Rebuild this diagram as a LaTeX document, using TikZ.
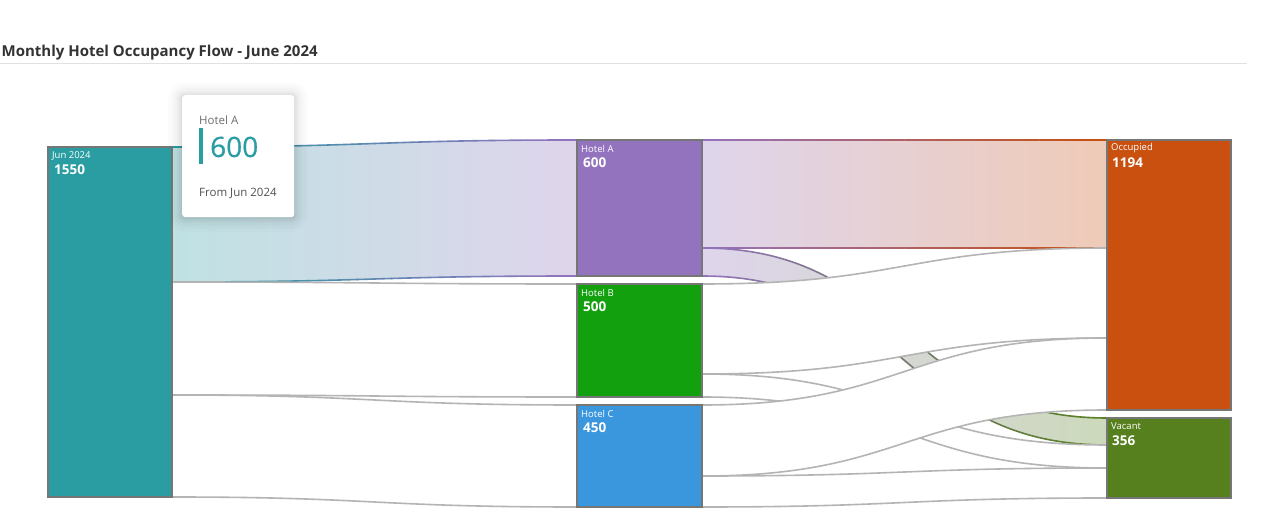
\documentclass[tikz,border=0pt]{standalone}
\usepackage{fontspec}
\setmainfont{Open Sans}
\newfontfamily\tipnum[FakeBold=0.6]{Open Sans}
\definecolor{cJun}{HTML}{2A9DA3}
\definecolor{cHA}{HTML}{9373BE}
\definecolor{cHB}{HTML}{13A00F}
\definecolor{cHC}{HTML}{3A96DD}
\definecolor{cOcc}{HTML}{C9500E}
\definecolor{cVac}{HTML}{56801D}
\definecolor{nodegray}{HTML}{767676}
\definecolor{linkgray}{HTML}{B4B4B4}
\definecolor{titlecol}{HTML}{333333}
\definecolor{sepgray}{HTML}{E1E1E1}
\definecolor{tipgray}{HTML}{6E6E6E}
\definecolor{tipgrayb}{HTML}{505050}
\tikzset{
  box/.style={draw=nodegray, line width=2pt, inner sep=0pt, outer sep=0pt, anchor=north west},
  lbl/.style={anchor=west, text=white, font=\fontsize{9.5}{11}\selectfont, inner sep=0pt},
  num/.style={anchor=west, text=white, font=\bfseries\fontsize{13.5}{16}\selectfont, inner sep=0pt},
  linkline/.style={draw=linkgray, line width=1.6pt},
}
\newcommand{\bandpath}[6]{(#1,#2) .. controls ({(#1+#4)/2},#2) and ({(#1+#4)/2},#5) .. (#4,#5) -- (#4,#6) .. controls ({(#1+#4)/2},#6) and ({(#1+#4)/2},#3) .. (#1,#3) -- cycle}
\newcommand{\bandedges}[6]{(#1,#2) .. controls ({(#1+#4)/2},#2) and ({(#1+#4)/2},#5) .. (#4,#5) (#4,#6) .. controls ({(#1+#4)/2},#6) and ({(#1+#4)/2},#3) .. (#1,#3)}
\newcommand{\plainband}[6]{%
  \fill[white] \bandpath{#1}{#2}{#3}{#4}{#5}{#6};
  \draw[linkline] \bandedges{#1}{#2}{#3}{#4}{#5}{#6};}
\newcommand{\hlband}[6]{%
  \fill[left color=fL, right color=fR] \bandpath{#1}{#2}{#3}{#4}{#5}{#6};
  \foreach \i in {0,...,23}{%
    \pgfmathsetmacro{\xa}{#1+(#4-#1)*\i/24-0.2}
    \pgfmathsetmacro{\xb}{#1+(#4-#1)*(\i+1)/24+0.2}
    \pgfmathtruncatemacro{\pc}{100-100*(\i+0.5)/24}
    \begin{scope}
      \clip (\xa,-10) rectangle (\xb,530);
      \draw[line width=1.6pt, draw=sL!\pc!sR] \bandedges{#1}{#2}{#3}{#4}{#5}{#6};
    \end{scope}}}
\begin{document}
\begin{tikzpicture}[x=1pt,y=-1pt]
\useasboundingbox (0,0) rectangle (1280,518);
\fill[white] (0,0) rectangle (1280,518);

% title
\node[anchor=west, inner sep=0pt, text=titlecol, font=\bfseries\fontsize{15}{18}\selectfont] (title) at (1.5,52.5) {Monthly Hotel Occupancy Flow - June 2024};
\coordinate (sepL) at (0,63.5);
\coordinate (sepR) at (1247,63.5);
\draw[sepgray, line width=1pt] (sepL) -- (sepR);

% links
\colorlet{fL}{cJun!30}\colorlet{fR}{cHA!30}\colorlet{sL}{cJun}\colorlet{sR}{cHA}
\hlband{172}{147}{282}{577}{140}{276}
\plainband{172}{282}{395}{577}{284}{397}
\plainband{172}{395}{497}{577}{405}{507}
\colorlet{fL}{cHA!30}\colorlet{fR}{cOcc!30}\colorlet{sL}{cHA}\colorlet{sR}{cOcc}
\hlband{702}{140}{248}{1107}{140}{248}
\colorlet{fL}{cHA!30}\colorlet{fR}{cVac!30}\colorlet{sL}{cHA}\colorlet{sR}{cVac}
\hlband{702}{248}{276}{1107}{418}{445}
\plainband{702}{284}{374}{1107}{248}{338}
\plainband{702}{374}{397}{1107}{445}{468}
\plainband{702}{405}{476}{1107}{338}{410}
\plainband{702}{476}{507}{1107}{468}{498}

% nodes
\node[box, fill=cJun, minimum width=124pt, minimum height=350pt] (jun) at (48,147) {};
\node[box, fill=cHA, minimum width=125pt, minimum height=136pt] (ha) at (577,140) {};
\node[box, fill=cHB, minimum width=125pt, minimum height=113pt] (hb) at (577,284) {};
\node[box, fill=cHC, minimum width=125pt, minimum height=102pt] (hc) at (577,405) {};
\node[box, fill=cOcc, minimum width=124pt, minimum height=270pt] (occ) at (1107,140) {};
\node[box, fill=cVac, minimum width=124pt, minimum height=80pt] (vac) at (1107,418) {};

\node[lbl] (junl) at (52,155.5) {Jun 2024};
\node[num] (junn) at (54,170) {1550};
\node[lbl] (hal) at (581,148.5) {Hotel A};
\node[num] (han) at (583,163) {600};
\node[lbl] (hbl) at (581,292.5) {Hotel B};
\node[num] (hbn) at (583,307) {500};
\node[lbl] (hcl) at (581,413.5) {Hotel C};
\node[num] (hcn) at (583,428) {450};
\node[lbl] (occl) at (1111,148.5) {Occupied};
\node[num] (occn) at (1112,163) {1194};
\node[lbl] (vacl) at (1111,426.5) {Vacant};
\node[num] (vacn) at (1112,441) {356};

% tooltip
\foreach \k/\op/\r in {14/0.010/17, 11/0.014/14, 8/0.018/11, 5/0.024/8, 3/0.030/6, 1/0.036/4}{
  \fill[black, opacity=\op, rounded corners=\r pt] (182-\k,96-\k) rectangle (294+\k,218+\k);
}
\node[fill=white, rounded corners=3pt, inner sep=0pt, minimum width=112pt, minimum height=122pt, anchor=north west] (tip) at (182,95) {};
\node[fill=cJun, inner sep=0pt, minimum width=4pt, minimum height=36pt, anchor=north west] (tipbar) at (199,128) {};
\node[anchor=base west, inner sep=0pt, text=tipgray, font=\fontsize{11.5}{13}\selectfont] (tipt) at (199,125) {Hotel A};
\node[anchor=base west, inner sep=0pt, text=cJun, font=\tipnum\fontsize{28}{32}\selectfont] (tipv) at (210,157) {600};
\node[anchor=base west, inner sep=0pt, text=tipgrayb, font=\fontsize{11.5}{13}\selectfont] (tipf) at (199,197) {From Jun 2024};
\end{tikzpicture}
\end{document}
